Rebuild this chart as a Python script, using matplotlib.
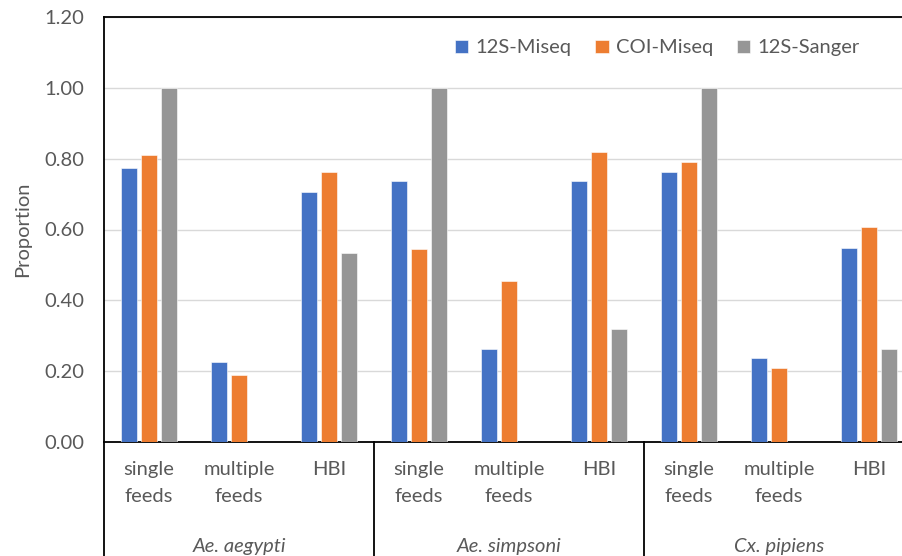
import numpy as np
import matplotlib.pyplot as plt
import matplotlib.transforms as mtransforms

# data
groups = ['Ae. aegypti', 'Ae. simpsoni', 'Cx. pipiens']
categories = ['single\nfeeds', 'multiple\nfeeds', 'HBI']
series = ['12S-Miseq', 'COI-Miseq', '12S-Sanger']
miseq_12s = [0.775, 0.227, 0.705, 0.737, 0.263, 0.737, 0.763, 0.237, 0.548]
miseq_coi = [0.81, 0.19, 0.762, 0.545, 0.455, 0.82, 0.79, 0.21, 0.607]
sanger_12s = [1.00, np.nan, 0.535, 1.00, np.nan, 0.32, 1.00, np.nan, 0.262]
yticks = [0.0, 0.2, 0.4, 0.6, 0.8, 1.0, 1.2]

colors = ['#4472C4', '#ED7D31', '#969696']
text_col = '#595959'
fs = 14.5

plt.rcParams['font.family'] = ['Lato', 'DejaVu Sans']

fig = plt.figure(figsize=(9.02, 5.56), dpi=100)
# the plot area runs off the right edge, like the cropped original
ax = fig.add_axes([104 / 902, 1 - 442 / 556, 810 / 902, 425 / 556])

n = len(miseq_12s)
x = np.arange(n)
w = 16 / 90
step = 20 / 90
for i, (vals, name) in enumerate(zip([miseq_12s, miseq_coi, sanger_12s], series)):
    ax.bar(x + (i - 1) * step, vals, width=w, color=colors[i], label=name,
           edgecolor='white', linewidth=0.4, zorder=3)

ax.set_xlim(-0.5, n - 0.5)
ax.set_ylim(0, 1.2)
ax.set_yticks(yticks)
ax.set_yticklabels([f'{t:.2f}' for t in yticks], color=text_col, fontsize=fs)
ax.tick_params(axis='y', length=0, pad=14)
ax.set_xticks([])
ax.grid(axis='y', color='#d9d9d9', linewidth=1, zorder=0)

ax.spines['right'].set_visible(False)
for s in ['left', 'top', 'bottom']:
    ax.spines[s].set_color('black')
    ax.spines[s].set_linewidth(1.3)

ax.set_ylabel('Proportion', color=text_col, fontsize=fs, labelpad=10)

trans = mtransforms.blended_transform_factory(ax.transData, ax.transAxes)
# category labels under each set of bars
for k in range(n):
    ax.text(k, -0.045, categories[k % 3], transform=trans, ha='center', va='top',
            color=text_col, fontsize=fs, linespacing=1.7)
# group labels
for g, name in enumerate(groups):
    ax.text(3 * g + 1, -0.226, name, transform=trans, ha='center', va='top',
            color=text_col, fontsize=fs, style='italic')
# divider lines below the axis
for xd in [-0.5, 2.5, 5.5]:
    ax.plot([xd, xd], [0, -0.4], transform=trans, color='black', lw=1.3,
            clip_on=False, zorder=5)

leg = ax.legend(loc='upper left', bbox_to_anchor=(333 / 810, 0.99), ncol=3,
                frameon=False, fontsize=fs, handlelength=0.65, handleheight=0.65,
                handletextpad=0.35, columnspacing=1.2)
for t in leg.get_texts():
    t.set_color(text_col)

fig.savefig('out.png', dpi=100)
